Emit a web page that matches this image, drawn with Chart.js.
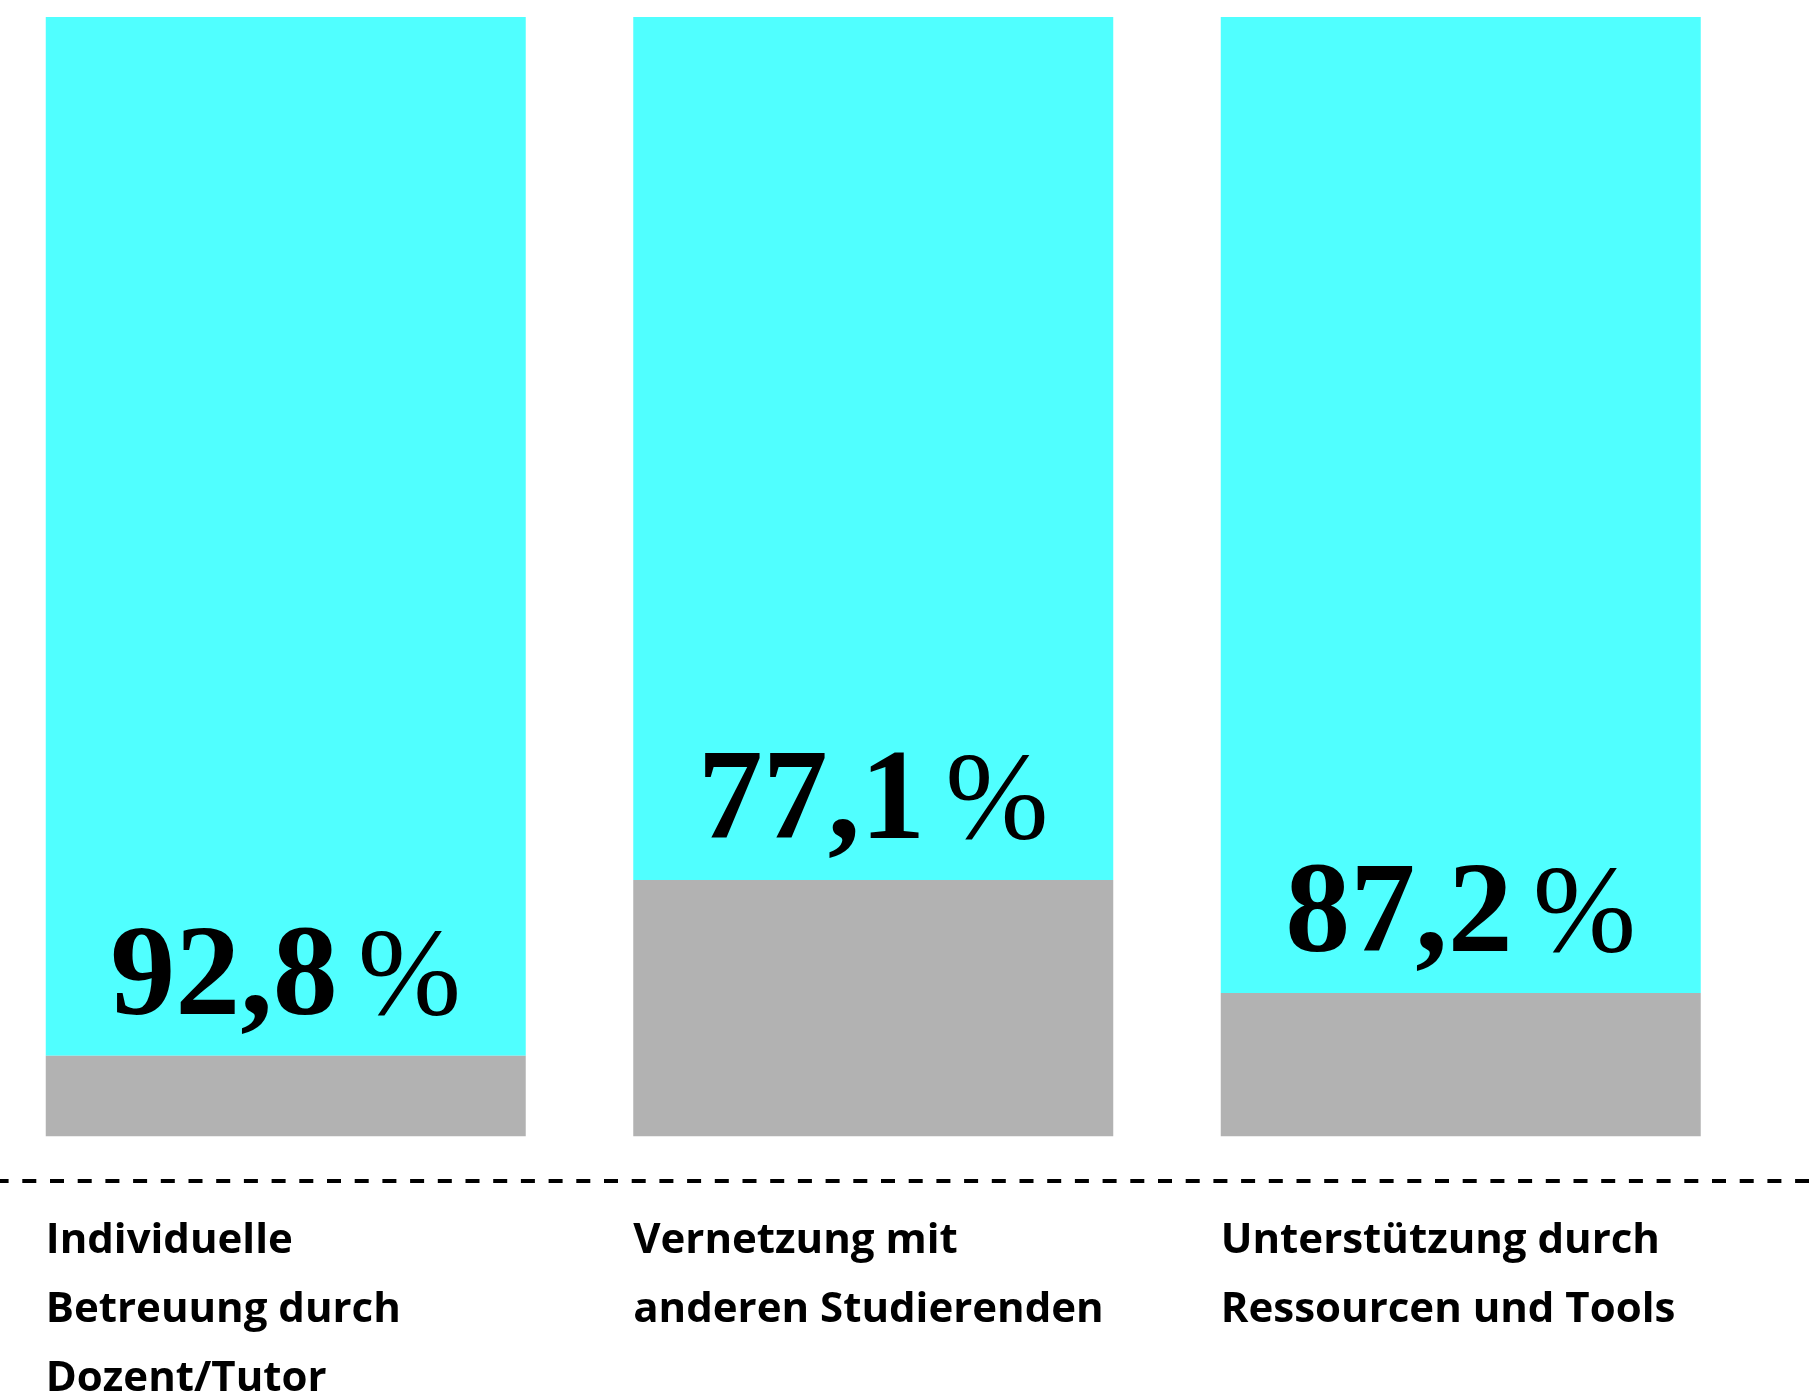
<!DOCTYPE html>
<html>
<head>
<meta charset="utf-8">
<script src="https://cdn.jsdelivr.net/npm/chart.js@4.4.1/dist/chart.umd.min.js"></script>
<style>
  html, body { margin: 0; padding: 0; background: #fff; overflow: hidden; }
  .canvas-wrapper { position: absolute; left: -8px; top: 0; width: 1817px; height: 1399px; }
</style>
</head>
<body>
<div class="canvas-wrapper"><canvas id="chart"></canvas></div>
<script>
const CYAN_COLOR = "rgb(80, 255, 255)";
const GRAY_COLOR = "rgb(178, 178, 178)";

const categories = [
    ["Individuelle", "Betreuung durch", "Dozent/Tutor"],
    ["Vernetzung mit", "anderen Studierenden"],
    ["Unterstützung durch", "Ressourcen und Tools"]
];
const agreeValues = [92.8, 77.1, 87.2];
const restValues = [7.2, 22.9, 12.8];

// draws "92,8 %" at the bottom of each cyan segment
const valueLabelPlugin = {
    id: "valueLabels",
    afterDatasetsDraw(chart) {
        const ctx = chart.ctx;
        const meta = chart.getDatasetMeta(1);
        ctx.save();
        ctx.fillStyle = "#000";
        ctx.textBaseline = "alphabetic";
        meta.data.forEach((bar, i) => {
            const numText = agreeValues[i].toFixed(1).replace(".", ",");
            ctx.font = "bold 130px 'Liberation Serif'";
            const numWidth = ctx.measureText(numText).width;
            ctx.font = "124px 'Liberation Serif'";
            const pctWidth = ctx.measureText("%").width;
            const gap = 20;
            const total = numWidth + gap + pctWidth;
            const left = bar.x - total / 2;
            const baseline = bar.base - 42;
            ctx.textAlign = "left";
            ctx.font = "bold 130px 'Liberation Serif'";
            ctx.fillText(numText, left, baseline);
            ctx.font = "124px 'Liberation Serif'";
            ctx.fillText("%", left + numWidth + gap, baseline);
        });
        ctx.restore();
    }
};

// dashed separator across the whole page at the bottom of the chart area
const dashedLinePlugin = {
    id: "dashedLine",
    afterDraw(chart) {
        const ctx = chart.ctx;
        const y = chart.chartArea.bottom;
        ctx.save();
        ctx.strokeStyle = "#000";
        ctx.lineWidth = 4;
        ctx.setLineDash([14, 13.7]);
        ctx.lineDashOffset = 25.1;
        ctx.beginPath();
        ctx.moveTo(0, y);
        ctx.lineTo(chart.width, y);
        ctx.stroke();
        ctx.restore();
    }
};

new Chart(document.getElementById("chart").getContext("2d"), {
    type: "bar",
    data: {
        labels: categories,
        datasets: [{
            data: restValues,
            backgroundColor: GRAY_COLOR,
            borderWidth: 0
        }, {
            data: agreeValues,
            backgroundColor: CYAN_COLOR,
            borderWidth: 0
        }]
    },
    options: {
        responsive: true,
        maintainAspectRatio: false,
        animation: false,
        layout: { padding: { top: 17, left: 0, right: 54.5, bottom: 0 } },
        datasets: { bar: { categoryPercentage: 1, barPercentage: 0.817 } },
        plugins: { legend: { display: false }, tooltip: { enabled: false } },
        scales: {
            x: {
                stacked: true,
                grid: { display: false, drawTicks: false, tickLength: 0 },
                border: { display: false },
                ticks: {
                    autoSkip: false,
                    maxRotation: 0,
                    minRotation: 0,
                    align: "start",
                    labelOffset: -240,
                    padding: 25,
                    color: "#000",
                    font: { family: "Open Sans", weight: "bold", size: 42, lineHeight: 1.648 }
                },
                afterFit: (scale) => {
                    scale.height = 218;
                    scale.paddingLeft = 0;
                    scale.paddingRight = 0;
                }
            },
            y: {
                stacked: true,
                display: false,
                min: -4,
                max: 100
            }
        }
    },
    plugins: [valueLabelPlugin, dashedLinePlugin]
});
</script>
</body>
</html>
